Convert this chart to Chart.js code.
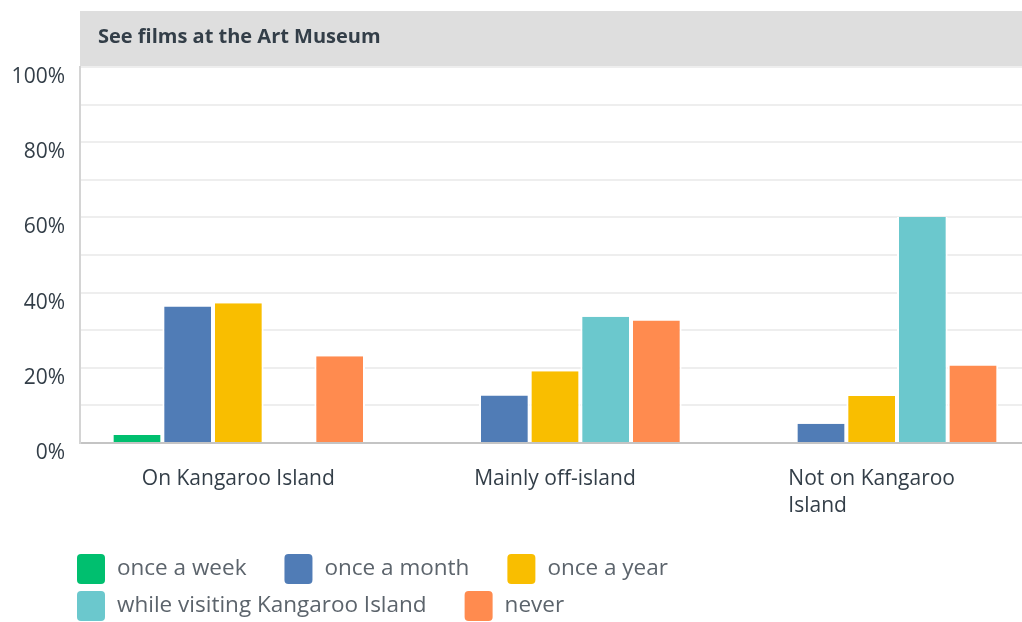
<!DOCTYPE html>
<html>
<head>
<meta charset="utf-8">
<script src="https://cdn.jsdelivr.net/npm/chart.js@4/dist/chart.umd.min.js"></script>
<style>
html, body { margin: 0; padding: 0; background: #fff; overflow: hidden; }
</style>
</head>
<body>
<canvas id="myChart" width="1030" height="622"></canvas>
<script>
const chartTitle = 'See films at the Art Museum';
const categories = [['On Kangaroo Island'], ['Mainly off-island'], ['Not on Kangaroo', 'Island']];
const seriesNames = ['once a week', 'once a month', 'once a year', 'while visiting Kangaroo Island', 'never'];
const seriesColors = ['#00bf6f', '#507cb6', '#f9be00', '#6bc8cd', '#ff8b4f'];
const onceAWeek = [2.1, 0, 0];
const onceAMonth = [36.3, 12.6, 5.1];
const onceAYear = [37.2, 19.1, 12.5];
const whileVisiting = [0, 33.6, 60.1];
const never = [23.1, 32.6, 20.6];
const yTickLabels = ['0%', '', '20%', '', '40%', '', '60%', '', '80%', '', '100%'];

const FONT = "'Open Sans', sans-serif";
const seriesValues = [onceAWeek, onceAMonth, onceAYear, whileVisiting, never];

// grey title band above the plot
const titleBand = {
	id: 'titleBand',
	beforeDraw(chart) {
		const {ctx, chartArea} = chart;
		ctx.save();
		ctx.fillStyle = '#dedede';
		ctx.fillRect(chartArea.left, 11, chart.width - chartArea.left, chartArea.top - 12);
		ctx.fillStyle = '#333e48';
		ctx.font = "bold 20px " + FONT;
		ctx.textBaseline = 'middle';
		ctx.fillText(chartTitle, chartArea.left + 18, 37);
		ctx.restore();
	}
};

// category labels, lines left aligned like the original
const catLabels = {
	id: 'catLabels',
	afterDraw(chart) {
		const {ctx} = chart;
		const xs = chart.scales.x;
		ctx.save();
		ctx.font = "21px " + FONT;
		ctx.fillStyle = '#333e48';
		ctx.textBaseline = 'middle';
		categories.forEach((lines, i) => {
			const cx = xs.getPixelForValue(i);
			const w = Math.max(...lines.map(l => ctx.measureText(l).width));
			const x0 = cx - w / 2;
			lines.forEach((l, j) => ctx.fillText(l, x0, chart.chartArea.bottom + 36 + j * 27));
		});
		ctx.restore();
	}
};

// legend drawn by hand: wide gaps between items, tight rows
const boxLegend = {
	id: 'boxLegend',
	afterDraw(chart) {
		const {ctx} = chart;
		ctx.save();
		ctx.font = "22.5px " + FONT;
		ctx.textBaseline = 'middle';
		let x = 77, y = 569;
		seriesNames.forEach((name, i) => {
			const w = 40 + ctx.measureText(name).width;
			if (x + w > 1012) { x = 77; y += 37; }
			ctx.fillStyle = seriesColors[i];
			ctx.beginPath();
			ctx.roundRect(x, y - 15, 28, 30, 4);
			ctx.fill();
			ctx.fillStyle = '#5c646c';
			ctx.fillText(name, x + 40, y);
			x += w + 38;
		});
		ctx.restore();
	}
};

new Chart(document.getElementById('myChart'), {
	type: 'bar',
	data: {
		labels: categories,
		datasets: seriesNames.map((name, i) => ({
			label: name,
			data: seriesValues[i],
			backgroundColor: seriesColors[i],
			borderColor: '#ffffff',
			borderWidth: { left: 2, right: 2, top: 0, bottom: 0 },
			barPercentage: 1,
			categoryPercentage: 0.8
		}))
	},
	options: {
		responsive: false,
		devicePixelRatio: 1,
		animation: false,
		layout: { padding: { top: 67, right: 0, left: 0, bottom: 0 } },
		plugins: { legend: { display: false }, tooltip: { enabled: false } },
		scales: {
			x: {
				grid: { display: false },
				border: { color: '#c4c4c4', width: 2 },
				ticks: { display: false },
				afterFit: s => { s.height = 179; }
			},
			y: {
				min: 0,
				max: 100,
				ticks: {
					stepSize: 10,
					padding: 15,
					labelOffset: 10,
					color: '#333e48',
					font: { family: FONT, size: 21 },
					callback: v => yTickLabels[Math.round(v / 10)]
				},
				grid: { color: '#eeeeee', lineWidth: 2, drawTicks: false },
				border: { color: '#d4d4d4', width: 2 },
				afterFit: s => { s.width = 80; }
			}
		}
	},
	plugins: [titleBand, catLabels, boxLegend]
});
</script>
</body>
</html>
